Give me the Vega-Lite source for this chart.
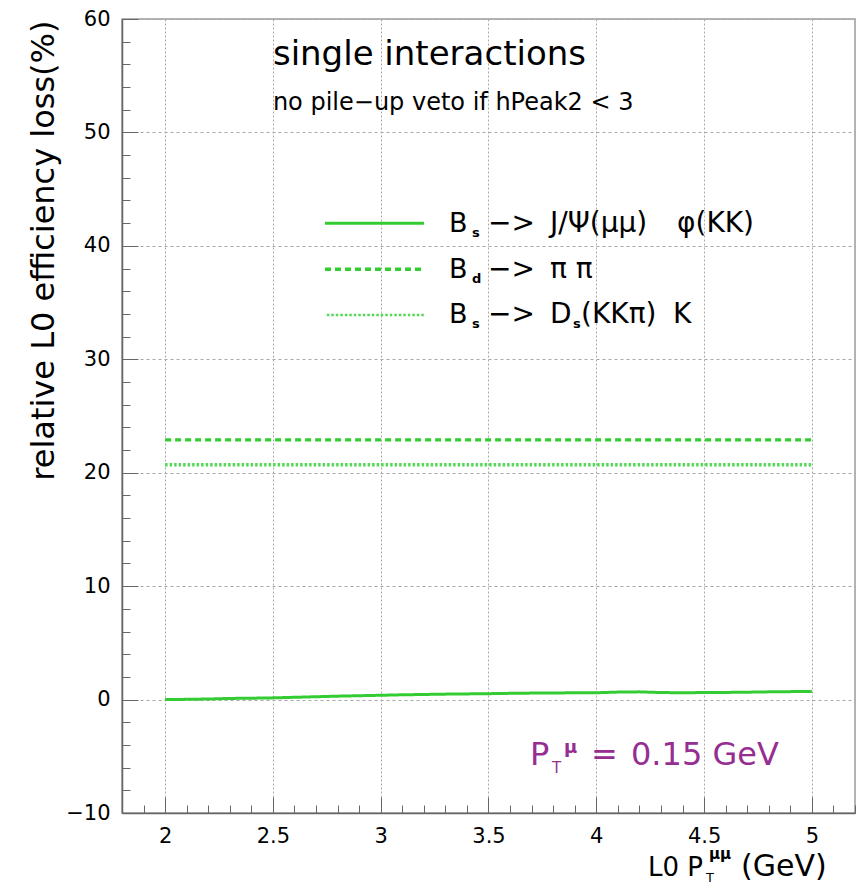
{
  "$schema": "https://vega.github.io/schema/vega-lite/v6.json",
  "width": 733,
  "height": 794,
  "autosize": {"type": "none"},
  "padding": {"left": 122, "top": 19, "right": 1, "bottom": 72},
  "background": "white",
  "config": {
    "view": {"stroke": "#9a9a9a", "strokeWidth": 1.5},
    "font": "DejaVu Sans",
    "text": {"font": "DejaVu Sans", "color": "black", "baseline": "alphabetic", "align": "left"}
  },
  "layer": [
    {
      "data": {
        "values": [
          {"pt": 2.0, "loss": 0.0, "decay": "Bs_JpsiPhi"},
          {"pt": 2.1, "loss": 0.02, "decay": "Bs_JpsiPhi"},
          {"pt": 2.2, "loss": 0.05, "decay": "Bs_JpsiPhi"},
          {"pt": 2.3, "loss": 0.1, "decay": "Bs_JpsiPhi"},
          {"pt": 2.4, "loss": 0.12, "decay": "Bs_JpsiPhi"},
          {"pt": 2.5, "loss": 0.15, "decay": "Bs_JpsiPhi"},
          {"pt": 2.6, "loss": 0.2, "decay": "Bs_JpsiPhi"},
          {"pt": 2.7, "loss": 0.25, "decay": "Bs_JpsiPhi"},
          {"pt": 2.8, "loss": 0.3, "decay": "Bs_JpsiPhi"},
          {"pt": 2.9, "loss": 0.34, "decay": "Bs_JpsiPhi"},
          {"pt": 3.0, "loss": 0.38, "decay": "Bs_JpsiPhi"},
          {"pt": 3.1, "loss": 0.42, "decay": "Bs_JpsiPhi"},
          {"pt": 3.2, "loss": 0.45, "decay": "Bs_JpsiPhi"},
          {"pt": 3.3, "loss": 0.48, "decay": "Bs_JpsiPhi"},
          {"pt": 3.4, "loss": 0.5, "decay": "Bs_JpsiPhi"},
          {"pt": 3.5, "loss": 0.52, "decay": "Bs_JpsiPhi"},
          {"pt": 3.6, "loss": 0.55, "decay": "Bs_JpsiPhi"},
          {"pt": 3.7, "loss": 0.57, "decay": "Bs_JpsiPhi"},
          {"pt": 3.8, "loss": 0.58, "decay": "Bs_JpsiPhi"},
          {"pt": 3.9, "loss": 0.6, "decay": "Bs_JpsiPhi"},
          {"pt": 4.0, "loss": 0.6, "decay": "Bs_JpsiPhi"},
          {"pt": 4.1, "loss": 0.66, "decay": "Bs_JpsiPhi"},
          {"pt": 4.2, "loss": 0.68, "decay": "Bs_JpsiPhi"},
          {"pt": 4.3, "loss": 0.62, "decay": "Bs_JpsiPhi"},
          {"pt": 4.4, "loss": 0.6, "decay": "Bs_JpsiPhi"},
          {"pt": 4.5, "loss": 0.62, "decay": "Bs_JpsiPhi"},
          {"pt": 4.6, "loss": 0.63, "decay": "Bs_JpsiPhi"},
          {"pt": 4.7, "loss": 0.65, "decay": "Bs_JpsiPhi"},
          {"pt": 4.8, "loss": 0.68, "decay": "Bs_JpsiPhi"},
          {"pt": 4.9, "loss": 0.7, "decay": "Bs_JpsiPhi"},
          {"pt": 5.0, "loss": 0.72, "decay": "Bs_JpsiPhi"},
          {"pt": 2.0, "loss": 22.9, "decay": "Bd_pipi"},
          {"pt": 3.0, "loss": 22.9, "decay": "Bd_pipi"},
          {"pt": 4.0, "loss": 22.9, "decay": "Bd_pipi"},
          {"pt": 5.0, "loss": 22.9, "decay": "Bd_pipi"},
          {"pt": 2.0, "loss": 20.7, "decay": "Bs_DsK"},
          {"pt": 3.0, "loss": 20.7, "decay": "Bs_DsK"},
          {"pt": 4.0, "loss": 20.7, "decay": "Bs_DsK"},
          {"pt": 5.0, "loss": 20.7, "decay": "Bs_DsK"}
        ]
      },
      "mark": {"type": "line", "clip": true},
      "encoding": {
        "x": {
          "field": "pt",
          "type": "quantitative",
          "scale": {"domain": [1.8, 5.2], "nice": false, "zero": false},
          "axis": {
            "title": null,
            "tickCount": 500,
            "values": [1.8, 1.9, 2.0, 2.1, 2.2, 2.3, 2.4, 2.5, 2.6, 2.7, 2.8, 2.9, 3.0, 3.1, 3.2, 3.3, 3.4, 3.5, 3.6, 3.7, 3.8, 3.9, 4.0, 4.1, 4.2, 4.3, 4.4, 4.5, 4.6, 4.7, 4.8, 4.9, 5.0, 5.1, 5.2],
            "labelExpr": "abs(datum.value*2 - round(datum.value*2)) < 0.001 ? format(datum.value, '~g') : ''",
            "tickSize": {"condition": {"test": "abs(datum.value*2 - round(datum.value*2)) < 0.001", "value": -16}, "value": -8},
            "grid": true,
            "gridOpacity": {"condition": {"test": "abs(datum.value*2 - round(datum.value*2)) < 0.001", "value": 1}, "value": 0},
            "gridDash": [2, 2],
            "gridColor": "#a8a8a8",
            "gridWidth": 1,
            "domainColor": "#666666",
            "domainWidth": 1.5,
            "tickColor": "#666666",
            "tickWidth": 1,
            "labelFontSize": 21,
            "labelFont": "DejaVu Sans",
            "labelColor": "black",
            "labelPadding": 28,
            "labelFlush": false,
            "labelOverlap": false
          }
        },
        "y": {
          "field": "loss",
          "type": "quantitative",
          "scale": {"domain": [-10, 60], "nice": false, "zero": false},
          "axis": {
            "title": "relative L0 efficiency loss(%)",
            "titleFont": "DejaVu Sans",
            "titleFontSize": 32,
            "titleFontWeight": "normal",
            "titleColor": "black",
            "titleAngle": 270,
            "titleAlign": "right",
            "titleBaseline": "alphabetic",
            "titleX": -69,
            "titleY": 1,
            "tickCount": 500,
            "values": [-10, -8, -6, -4, -2, 0, 2, 4, 6, 8, 10, 12, 14, 16, 18, 20, 22, 24, 26, 28, 30, 32, 34, 36, 38, 40, 42, 44, 46, 48, 50, 52, 54, 56, 58, 60],
            "labelExpr": "datum.value % 10 === 0 ? format(datum.value, '~g') : ''",
            "tickSize": {"condition": {"test": "datum.value % 10 === 0", "value": -16}, "value": -8},
            "grid": true,
            "gridOpacity": {"condition": {"test": "datum.value % 10 === 0", "value": 1}, "value": 0},
            "gridDash": [3, 3],
            "gridColor": "#a8a8a8",
            "gridWidth": 1,
            "domainColor": "#666666",
            "domainWidth": 1.5,
            "tickColor": "#666666",
            "tickWidth": 1,
            "labelFontSize": 21,
            "labelFont": "DejaVu Sans",
            "labelColor": "black",
            "labelPadding": 28,
            "labelFlush": false,
            "labelOverlap": false
          }
        },
        "color": {
          "field": "decay",
          "type": "nominal",
          "scale": {"domain": ["Bs_JpsiPhi", "Bd_pipi", "Bs_DsK"], "range": ["#33cc33", "#33cc33", "#55d855"]},
          "legend": null
        },
        "strokeDash": {
          "field": "decay",
          "type": "nominal",
          "scale": {"domain": ["Bs_JpsiPhi", "Bd_pipi", "Bs_DsK"], "range": [[1, 0], [6, 4], [2.5, 2]]},
          "legend": null
        },
        "strokeWidth": {
          "field": "decay",
          "type": "ordinal",
          "scale": {"domain": ["Bs_JpsiPhi", "Bd_pipi", "Bs_DsK"], "range": [3, 3.5, 2.5]},
          "legend": null
        }
      }
    },
    {
      "data": {"values": [{"t": "single interactions"}]},
      "mark": {"type": "text", "fontSize": 34},
      "encoding": {"x": {"datum": 2.5}, "y": {"datum": 55.94}, "text": {"field": "t"}}
    },
    {
      "data": {"values": [{"t": "no pile−up veto if hPeak2 < 3"}]},
      "mark": {"type": "text", "fontSize": 24},
      "encoding": {"x": {"datum": 2.5}, "y": {"datum": 52.0}, "text": {"field": "t"}}
    },
    {
      "data": {"values": [{"t": "P"}]},
      "mark": {"type": "text", "fontSize": 32, "color": "#962e92"},
      "encoding": {"x": {"datum": 3.6925}, "y": {"datum": -5.77}, "text": {"field": "t"}}
    },
    {
      "data": {"values": [{"t": "T"}]},
      "mark": {"type": "text", "fontSize": 15, "color": "#962e92", "dx": 22, "dy": 8},
      "encoding": {"x": {"datum": 3.6925}, "y": {"datum": -5.77}, "text": {"field": "t"}}
    },
    {
      "data": {"values": [{"t": "μ"}]},
      "mark": {"type": "text", "fontSize": 18, "fontWeight": "bold", "color": "#962e92", "dx": 34, "dy": -12},
      "encoding": {"x": {"datum": 3.6925}, "y": {"datum": -5.77}, "text": {"field": "t"}}
    },
    {
      "data": {"values": [{"t": "="}]},
      "mark": {"type": "text", "fontSize": 32, "color": "#962e92", "dx": 61},
      "encoding": {"x": {"datum": 3.6925}, "y": {"datum": -5.77}, "text": {"field": "t"}}
    },
    {
      "data": {"values": [{"t": "0.15 GeV"}]},
      "mark": {"type": "text", "fontSize": 32, "color": "#962e92", "dx": 101},
      "encoding": {"x": {"datum": 3.6925}, "y": {"datum": -5.77}, "text": {"field": "t"}}
    },
    {
      "data": {"values": [{"decay": "Bs_JpsiPhi"}]},
      "mark": {"type": "rule", "color": "#33cc33", "strokeWidth": 3},
      "encoding": {"x": {"datum": 2.7416}, "x2": {"datum": 3.2008}, "y": {"datum": 41.99}}
    },
    {
      "data": {"values": [{"decay": "Bd_pipi"}]},
      "mark": {"type": "rule", "color": "#33cc33", "strokeWidth": 3.5, "strokeDash": [6, 4]},
      "encoding": {"x": {"datum": 2.7416}, "x2": {"datum": 3.2008}, "y": {"datum": 37.93}}
    },
    {
      "data": {"values": [{"decay": "Bs_DsK"}]},
      "mark": {"type": "rule", "color": "#55d855", "strokeWidth": 2.5, "strokeDash": [2.5, 2]},
      "encoding": {"x": {"datum": 2.75}, "x2": {"datum": 3.2008}, "y": {"datum": 33.9}}
    },
    {
      "data": {"values": [{"t": "B"}]},
      "mark": {"type": "text", "fontSize": 27},
      "encoding": {"x": {"datum": 3.3168}, "y": {"datum": 41.22}, "text": {"field": "t"}}
    },
    {
      "data": {"values": [{"t": "s"}]},
      "mark": {"type": "text", "fontSize": 13, "fontWeight": "bold", "dx": 23, "dy": 5},
      "encoding": {"x": {"datum": 3.3168}, "y": {"datum": 41.22}, "text": {"field": "t"}}
    },
    {
      "data": {"values": [{"t": "−>"}]},
      "mark": {"type": "text", "fontSize": 28, "dx": 39},
      "encoding": {"x": {"datum": 3.3168}, "y": {"datum": 41.22}, "text": {"field": "t"}}
    },
    {
      "data": {"values": [{"t": "J/Ψ(μμ)"}]},
      "mark": {"type": "text", "fontSize": 28, "dx": 101},
      "encoding": {"x": {"datum": 3.3168}, "y": {"datum": 41.22}, "text": {"field": "t"}}
    },
    {
      "data": {"values": [{"t": "φ(KK)"}]},
      "mark": {"type": "text", "fontSize": 28, "dx": 228},
      "encoding": {"x": {"datum": 3.3168}, "y": {"datum": 41.22}, "text": {"field": "t"}}
    },
    {
      "data": {"values": [{"t": "B"}]},
      "mark": {"type": "text", "fontSize": 27},
      "encoding": {"x": {"datum": 3.3168}, "y": {"datum": 37.17}, "text": {"field": "t"}}
    },
    {
      "data": {"values": [{"t": "d"}]},
      "mark": {"type": "text", "fontSize": 13, "fontWeight": "bold", "dx": 23, "dy": 5},
      "encoding": {"x": {"datum": 3.3168}, "y": {"datum": 37.17}, "text": {"field": "t"}}
    },
    {
      "data": {"values": [{"t": "−>"}]},
      "mark": {"type": "text", "fontSize": 28, "dx": 39},
      "encoding": {"x": {"datum": 3.3168}, "y": {"datum": 37.17}, "text": {"field": "t"}}
    },
    {
      "data": {"values": [{"t": "π π"}]},
      "mark": {"type": "text", "fontSize": 28, "dx": 101},
      "encoding": {"x": {"datum": 3.3168}, "y": {"datum": 37.17}, "text": {"field": "t"}}
    },
    {
      "data": {"values": [{"t": "B"}]},
      "mark": {"type": "text", "fontSize": 27},
      "encoding": {"x": {"datum": 3.3168}, "y": {"datum": 33.2}, "text": {"field": "t"}}
    },
    {
      "data": {"values": [{"t": "s"}]},
      "mark": {"type": "text", "fontSize": 13, "fontWeight": "bold", "dx": 23, "dy": 5},
      "encoding": {"x": {"datum": 3.3168}, "y": {"datum": 33.2}, "text": {"field": "t"}}
    },
    {
      "data": {"values": [{"t": "−>"}]},
      "mark": {"type": "text", "fontSize": 28, "dx": 39},
      "encoding": {"x": {"datum": 3.3168}, "y": {"datum": 33.2}, "text": {"field": "t"}}
    },
    {
      "data": {"values": [{"t": "D"}]},
      "mark": {"type": "text", "fontSize": 28, "dx": 101},
      "encoding": {"x": {"datum": 3.3168}, "y": {"datum": 33.2}, "text": {"field": "t"}}
    },
    {
      "data": {"values": [{"t": "s"}]},
      "mark": {"type": "text", "fontSize": 13, "fontWeight": "bold", "dx": 124, "dy": 5},
      "encoding": {"x": {"datum": 3.3168}, "y": {"datum": 33.2}, "text": {"field": "t"}}
    },
    {
      "data": {"values": [{"t": "(KKπ)"}]},
      "mark": {"type": "text", "fontSize": 28, "dx": 132},
      "encoding": {"x": {"datum": 3.3168}, "y": {"datum": 33.2}, "text": {"field": "t"}}
    },
    {
      "data": {"values": [{"t": "K"}]},
      "mark": {"type": "text", "fontSize": 28, "dx": 224},
      "encoding": {"x": {"datum": 3.3168}, "y": {"datum": 33.2}, "text": {"field": "t"}}
    },
    {
      "data": {"values": [{"t": "(GeV)"}]},
      "mark": {"type": "text", "fontSize": 30, "dx": -114, "dy": 63},
      "encoding": {"x": {"datum": 5.2}, "y": {"datum": -10}, "text": {"field": "t"}}
    },
    {
      "data": {"values": [{"t": "L0 P"}]},
      "mark": {"type": "text", "fontSize": 26, "align": "right", "dx": -152, "dy": 63},
      "encoding": {"x": {"datum": 5.2}, "y": {"datum": -10}, "text": {"field": "t"}}
    },
    {
      "data": {"values": [{"t": "T"}]},
      "mark": {"type": "text", "fontSize": 13, "dx": -149, "dy": 69},
      "encoding": {"x": {"datum": 5.2}, "y": {"datum": -10}, "text": {"field": "t"}}
    },
    {
      "data": {"values": [{"t": "μμ"}]},
      "mark": {"type": "text", "fontSize": 15, "fontWeight": "bold", "dx": -146, "dy": 46},
      "encoding": {"x": {"datum": 5.2}, "y": {"datum": -10}, "text": {"field": "t"}}
    }
  ]
}
